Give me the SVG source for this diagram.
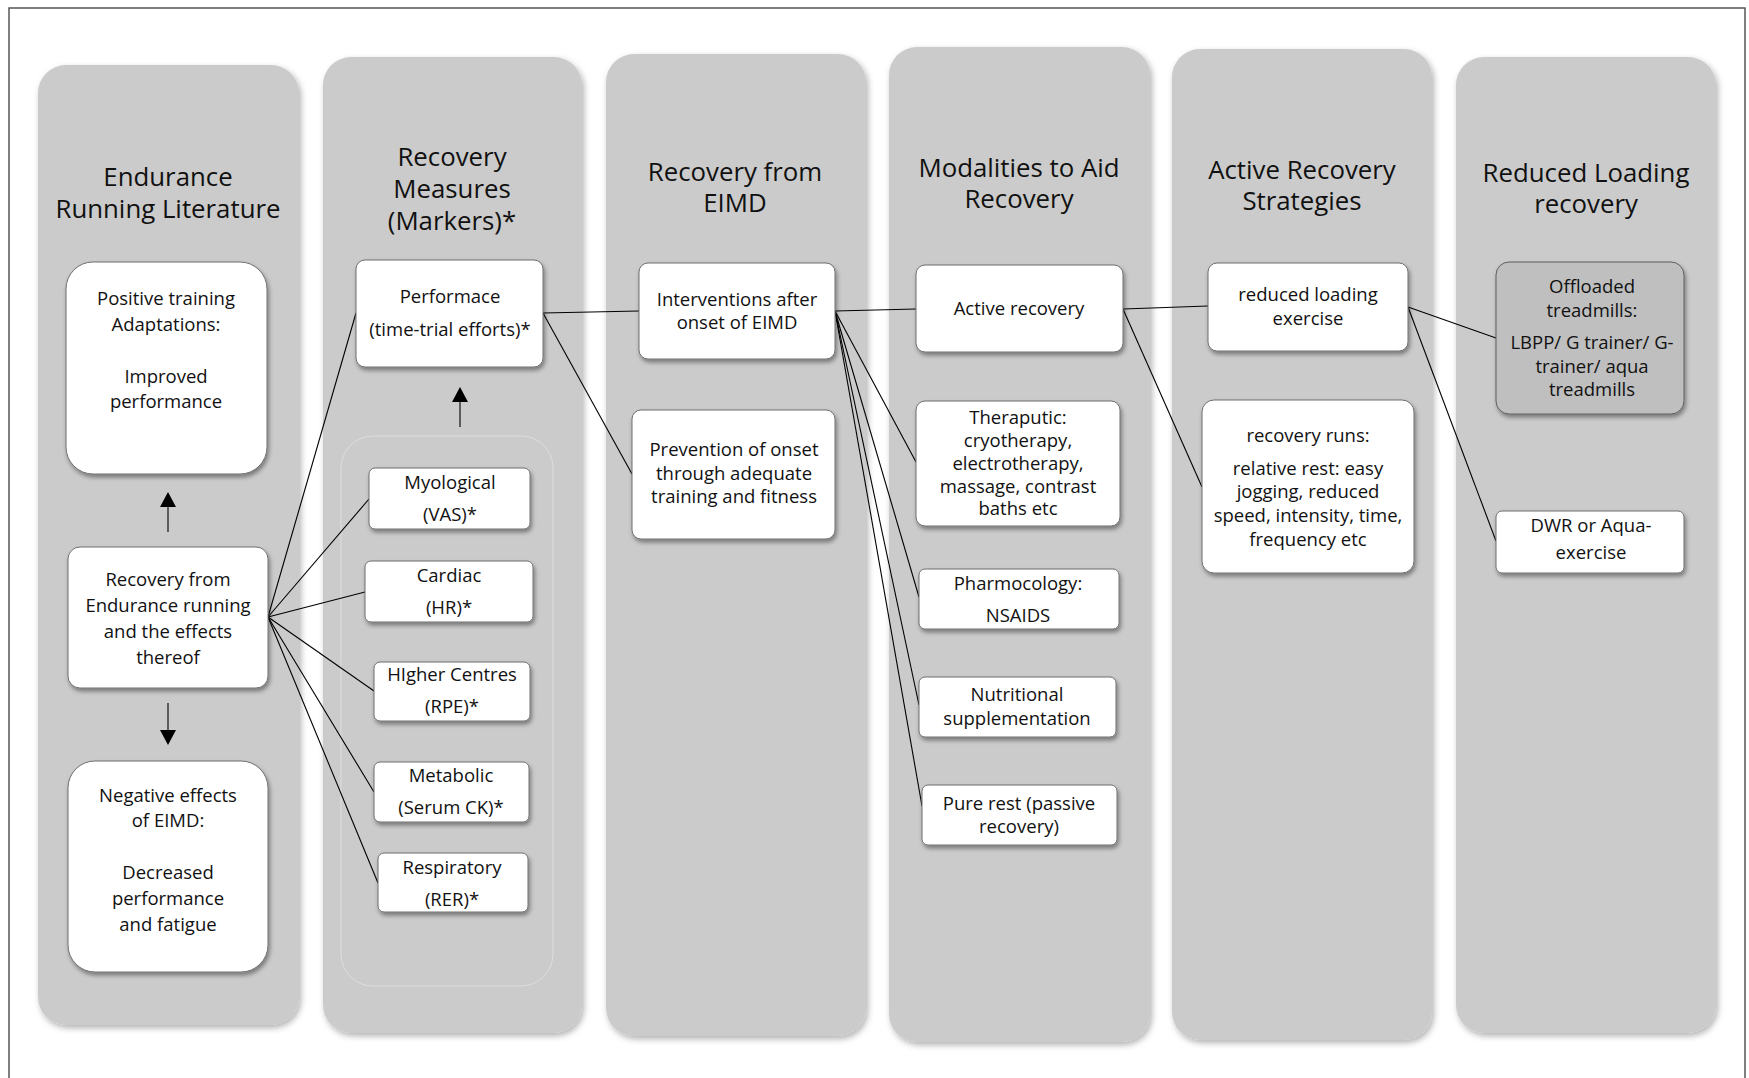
<svg xmlns="http://www.w3.org/2000/svg" width="1749" height="1078" viewBox="0 0 1749 1078">
<defs>
<filter id="colsh" x="-10%" y="-5%" width="120%" height="110%">
<feDropShadow dx="2" dy="3" stdDeviation="3" flood-color="#000" flood-opacity="0.3"/>
</filter>
<filter id="nodesh" x="-10%" y="-10%" width="125%" height="130%">
<feDropShadow dx="1.5" dy="3" stdDeviation="2" flood-color="#000" flood-opacity="0.4"/>
</filter>
</defs>
<style>
.col{fill:#cbcbcb;filter:url(#colsh)}
.node{fill:#fff;stroke:#6f6f6f;stroke-width:1;filter:url(#nodesh)}
.dark{fill:#bfbfbf;stroke:#5f5f5f}
.inner{fill:none;stroke:#dedede;stroke-width:1}
.title{font-family:"Open Sans","Liberation Sans",sans-serif;font-size:25.8px;fill:#111;text-anchor:middle}
.t{font-family:"Open Sans","Liberation Sans",sans-serif;font-size:18.5px;fill:#111;text-anchor:middle}
.conn line{stroke:#000;stroke-width:1.1}
.shaft{stroke:#000;stroke-width:2.8}
.head{fill:#000}
</style>
<rect width="1749" height="1078" fill="#fff"/>
<rect x="9" y="8" width="1736" height="1100" fill="none" stroke="#555" stroke-width="1.5"/>

<g id="columns">
<g id="col1"><rect class="col" x="38" y="65" width="261" height="960" rx="28"/>
<text class="title" x="168" y="186">Endurance</text><text class="title" x="168" y="218">Running Literature</text></g>
<g id="col2"><rect class="col" x="323" y="57" width="259" height="976" rx="28"/>
<text class="title" x="452" y="166">Recovery</text><text class="title" x="452" y="198">Measures</text><text class="title" x="452" y="230">(Markers)*</text>
<rect class="inner" x="341" y="436" width="212" height="550" rx="32"/></g>
<g id="col3"><rect class="col" x="606" y="54" width="260" height="982" rx="28"/>
<text class="title" x="735" y="181">Recovery from</text><text class="title" x="735" y="212">EIMD</text></g>
<g id="col4"><rect class="col" x="889" y="47" width="261" height="995" rx="28"/>
<text class="title" x="1019" y="177">Modalities to Aid</text><text class="title" x="1019" y="208">Recovery</text></g>
<g id="col5"><rect class="col" x="1172" y="49" width="260" height="991" rx="28"/>
<text class="title" x="1302" y="179">Active Recovery</text><text class="title" x="1302" y="210">Strategies</text></g>
<g id="col6"><rect class="col" x="1456" y="57" width="260" height="976" rx="28"/>
<text class="title" x="1586" y="182">Reduced Loading</text><text class="title" x="1586" y="213">recovery</text></g>
</g>

<g id="connectors" class="conn">
<line x1="268" y1="617" x2="356" y2="313"/>
<line x1="268" y1="617" x2="369" y2="499"/>
<line x1="268" y1="617" x2="365" y2="592"/>
<line x1="268" y1="617" x2="374" y2="691"/>
<line x1="268" y1="617" x2="374" y2="792"/>
<line x1="268" y1="617" x2="378" y2="883"/>
<line x1="543" y1="313" x2="639" y2="311"/>
<line x1="543" y1="313" x2="632" y2="474"/>
<line x1="835" y1="311" x2="916" y2="309"/>
<line x1="835" y1="311" x2="916" y2="462"/>
<line x1="835" y1="311" x2="919" y2="597"/>
<line x1="835" y1="311" x2="919" y2="705"/>
<line x1="835" y1="311" x2="922" y2="806"/>
<line x1="1123" y1="309" x2="1208" y2="306"/>
<line x1="1123" y1="309" x2="1202" y2="487"/>
<line x1="1408" y1="307" x2="1496" y2="338"/>
<line x1="1408" y1="307" x2="1496" y2="541"/>
<g id="arrow-up-1"><line class="shaft" x1="168" y1="532" x2="168" y2="505"/><polygon class="head" points="160,507 176,507 168,492"/></g>
<g id="arrow-down-1"><line class="shaft" x1="168" y1="703" x2="168" y2="732"/><polygon class="head" points="160,730 176,730 168,745"/></g>
<g id="arrow-up-2"><line class="shaft" x1="460" y1="427" x2="460" y2="400"/><polygon class="head" points="452,402 468,402 460,387"/></g>
</g>

<g id="n-positive"><rect class="node" x="66" y="262" width="201" height="212" rx="27"/>
<text class="t" x="166" y="305">Positive training</text><text class="t" x="166" y="331">Adaptations:</text><text class="t" x="166" y="383">Improved</text><text class="t" x="166" y="408">performance</text></g>
<g id="n-recovery-endurance"><rect class="node" x="68" y="547" width="200" height="141" rx="12"/>
<text class="t" x="168" y="586">Recovery from</text><text class="t" x="168" y="612">Endurance running</text><text class="t" x="168" y="638">and the effects</text><text class="t" x="168" y="664">thereof</text></g>
<g id="n-negative"><rect class="node" x="68" y="761" width="200" height="211" rx="27"/>
<text class="t" x="168" y="802">Negative effects</text><text class="t" x="168" y="827">of EIMD:</text><text class="t" x="168" y="879">Decreased</text><text class="t" x="168" y="905">performance</text><text class="t" x="168" y="931">and fatigue</text></g>

<g id="n-performace"><rect class="node" x="356" y="260" width="187" height="107" rx="9"/>
<text class="t" x="450" y="303">Performace</text><text class="t" x="450" y="336">(time-trial efforts)*</text></g>
<g id="n-myological"><rect class="node" x="369" y="468" width="161" height="61" rx="6"/>
<text class="t" x="450" y="489">Myological</text><text class="t" x="450" y="521">(VAS)*</text></g>
<g id="n-cardiac"><rect class="node" x="365" y="561" width="168" height="61" rx="6"/>
<text class="t" x="449" y="582">Cardiac</text><text class="t" x="449" y="614">(HR)*</text></g>
<g id="n-higher"><rect class="node" x="374" y="662" width="156" height="59" rx="6"/>
<text class="t" x="452" y="681">HIgher Centres</text><text class="t" x="452" y="713">(RPE)*</text></g>
<g id="n-metabolic"><rect class="node" x="374" y="762" width="155" height="60" rx="6"/>
<text class="t" x="451" y="782">Metabolic</text><text class="t" x="451" y="814">(Serum CK)*</text></g>
<g id="n-respiratory"><rect class="node" x="378" y="853" width="150" height="59" rx="6"/>
<text class="t" x="452" y="874">Respiratory</text><text class="t" x="452" y="906">(RER)*</text></g>

<g id="n-interventions"><rect class="node" x="639" y="263" width="196" height="96" rx="9"/>
<text class="t" x="737" y="306">Interventions after</text><text class="t" x="737" y="329">onset of EIMD</text></g>
<g id="n-prevention"><rect class="node" x="632" y="410" width="203" height="129" rx="9"/>
<text class="t" x="734" y="456">Prevention of onset</text><text class="t" x="734" y="480">through adequate</text><text class="t" x="734" y="503">training and fitness</text></g>

<g id="n-active"><rect class="node" x="916" y="265" width="207" height="87" rx="9"/>
<text class="t" x="1019" y="315">Active recovery</text></g>
<g id="n-theraputic"><rect class="node" x="916" y="401" width="204" height="125" rx="9"/>
<text class="t" x="1018" y="424">Theraputic:</text><text class="t" x="1018" y="447">cryotherapy,</text><text class="t" x="1018" y="470">electrotherapy,</text><text class="t" x="1018" y="493">massage, contrast</text><text class="t" x="1018" y="515">baths etc</text></g>
<g id="n-pharm"><rect class="node" x="919" y="569" width="200" height="60" rx="6"/>
<text class="t" x="1018" y="590">Pharmocology:</text><text class="t" x="1018" y="622">NSAIDS</text></g>
<g id="n-nutrition"><rect class="node" x="919" y="677" width="197" height="60" rx="6"/>
<text class="t" x="1017" y="701">Nutritional</text><text class="t" x="1017" y="725">supplementation</text></g>
<g id="n-rest"><rect class="node" x="922" y="785" width="195" height="60" rx="6"/>
<text class="t" x="1019" y="810">Pure rest (passive</text><text class="t" x="1019" y="833">recovery)</text></g>

<g id="n-reduced"><rect class="node" x="1208" y="263" width="200" height="88" rx="9"/>
<text class="t" x="1308" y="301">reduced loading</text><text class="t" x="1308" y="325">exercise</text></g>
<g id="n-runs"><rect class="node" x="1202" y="400" width="212" height="173" rx="12"/>
<text class="t" x="1308" y="442">recovery runs:</text><text class="t" x="1308" y="475">relative rest: easy</text><text class="t" x="1308" y="498">jogging, reduced</text><text class="t" x="1308" y="522">speed, intensity, time,</text><text class="t" x="1308" y="546">frequency etc</text></g>

<g id="n-offloaded"><rect class="node dark" x="1496" y="262" width="188" height="152" rx="13"/>
<text class="t" x="1592" y="293">Offloaded</text><text class="t" x="1592" y="317">treadmills:</text><text class="t" x="1592" y="349">LBPP/ G trainer/ G-</text><text class="t" x="1592" y="373">trainer/ aqua</text><text class="t" x="1592" y="396">treadmills</text></g>
<g id="n-dwr"><rect class="node" x="1496" y="511" width="188" height="62" rx="6"/>
<text class="t" x="1591" y="532">DWR or Aqua-</text><text class="t" x="1591" y="559">exercise</text></g>
</svg>
